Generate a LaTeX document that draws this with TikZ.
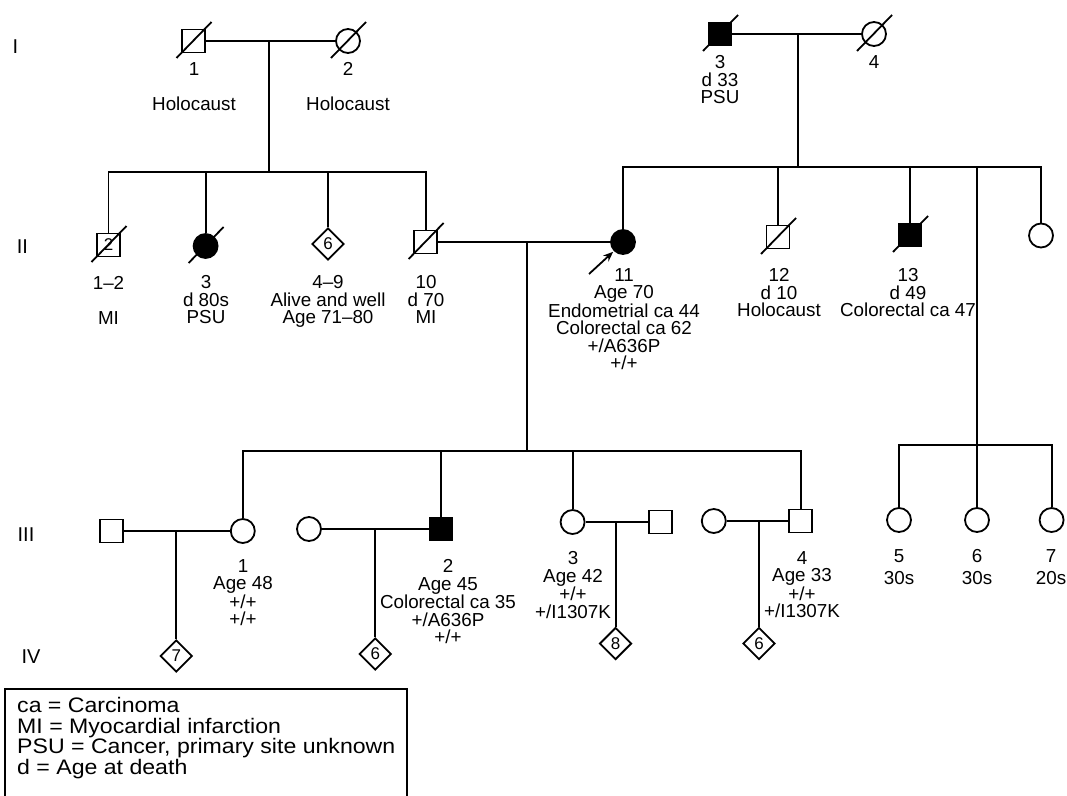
\documentclass[tikz,border=0pt]{standalone}
\usepackage{fontspec}
\setmainfont{Liberation Sans}
\newfontfamily\legfont[FakeStretch=1.1]{Liberation Sans}
\usetikzlibrary{shapes.geometric,arrows.meta}
\newcommand\deadmark[1]{\draw[ln] (#1.center) ++(-17,17) -- ++(35,-36);}
\begin{document}
\begin{tikzpicture}[x=1pt,y=-1pt,
  ln/.style={line width=1.8pt},
  sq/.style={draw,line width=1.8pt,rectangle,minimum size=23pt,inner sep=0pt,font=\fontsize{17}{17}\selectfont},
  sqf/.style={sq,fill=black},
  ci/.style={draw,line width=1.8pt,circle,minimum size=24pt,inner sep=0pt},
  cif/.style={ci,fill=black},
  dm/.style={draw,line width=1.8pt,diamond,minimum size=32pt,inner sep=0pt,font=\fontsize{17}{17}\selectfont},
  lbl/.style={anchor=north,align=center,inner sep=0pt,font=\fontsize{18.8}{17.5}\selectfont},
  gen/.style={inner sep=0pt,font=\fontsize{20}{20}\selectfont},
  legtext/.style={anchor=north west,align=left,inner sep=0pt,font=\legfont\fontsize{21}{20.7}\selectfont},
]
\useasboundingbox (0,0) rectangle (1067,795);

% generation labels
\node[gen] (gI) at (15.5,46.5) {I};
\node[gen] (gII) at (22.4,247) {II};
\node[gen] (gIII) at (26,535) {III};
\node[gen] (gIV) at (31,657) {IV};

% ---------- generation I ----------
\node[sq] (i1) at (193.5,41) {};
\node[ci] (i2) at (348,41) {};
\node[sqf] (i3) at (720,34) {};
\node[ci] (i4) at (874,34) {};
\deadmark{i1}
\deadmark{i2}
\deadmark{i3}
\deadmark{i4}
\node[lbl] (Li1) at (194,62.3) {1\\[17.5pt]Holocaust};
\node[lbl] (Li2) at (348,62.3) {2\\[17.5pt]Holocaust};
\node[lbl] (Li3) at (720,55.3) {3\\d 33\\PSU};
\node[lbl] (Li4) at (874,55.3) {4};

% ---------- generation II ----------
\node[sq] (a1) at (108.5,245) {2};
\node[cif] (a3) at (205.6,246) {};
\node[dm] (a4) at (328,244) {6};
\node[sq] (a10) at (425.6,242) {};
\node[cif] (a11) at (623,242) {};
\node[sq] (a12) at (778,237) {};
\node[sqf] (a13) at (910,235) {};
\node[ci] (a14) at (1041,235.5) {};
\deadmark{a1}
\deadmark{a3}
\deadmark{a10}
\deadmark{a12}
\deadmark{a13}
\node[lbl] (La1) at (108.5,276.3) {1--2\\[17.5pt]MI};
\node[lbl] (La3) at (206,275.3) {3\\d 80s\\PSU};
\node[lbl] (La4) at (328,275.3) {4--9\\Alive and well\\Age 71--80};
\node[lbl] (La10) at (426,275.3) {10\\d 70\\MI};
\node[lbl] (La11) at (624,268.3) {11\\Age 70\\Endometrial ca 44\\Colorectal ca 62\\+/A636P\\+/+};
\node[lbl] (La12) at (779,268.3) {12\\d 10\\Holocaust};
\node[lbl] (La13) at (908,268.3) {13\\d 49\\Colorectal ca 47};

% proband arrow
\coordinate (arrtail) at (589,274);
\draw[ln,-{Stealth[length=10pt,width=8pt]},shorten >=1pt] (arrtail) -- (a11.south west);

% ---------- generation III ----------
\node[sq] (b0) at (111.5,531) {};
\node[ci] (b1) at (242.8,531) {};
\node[ci] (b2s) at (309,529) {};
\node[sqf] (b2) at (441,529) {};
\node[ci] (b3) at (572.6,522) {};
\node[sq] (b3s) at (660.3,522) {};
\node[ci] (b4s) at (713.8,521) {};
\node[sq] (b4) at (800.8,521) {};
\node[ci] (b5) at (899,520) {};
\node[ci] (b6) at (977,520) {};
\node[ci] (b7) at (1051.6,520) {};
\node[lbl] (Lb1) at (243,559.3) {1\\Age 48\\+/+\\+/+};
\node[lbl] (Lb2) at (448,559.3) {2\\Age 45\\Colorectal ca 35\\+/A636P\\+/+};
\node[lbl] (Lb3) at (573,551.3) {3\\Age 42\\+/+\\+/I1307K};
\node[lbl] (Lb4) at (802,551.3) {4\\Age 33\\+/+\\+/I1307K};
\node[lbl] (Lb5) at (899,549.3) {5\\[4.5pt]30s};
\node[lbl] (Lb6) at (977,549.3) {6\\[4.5pt]30s};
\node[lbl] (Lb7) at (1051,549.3) {7\\[4.5pt]20s};

% ---------- generation IV ----------
\node[dm] (c7) at (176.3,656) {7};
\node[dm] (c6a) at (375.3,654) {6};
\node[dm] (c8) at (615.6,643.5) {8};
\node[dm] (c6b) at (759,643.5) {6};

% ---------- connectors ----------
% I-1 x I-2
\draw[ln] (i1) -- (i2);
\coordinate (mi12) at (269,41);
\coordinate (sl) at (269,172);
\draw[ln] (mi12) -- (sl);
\draw[ln] (a1.north) -- (a1.north |- sl) -- (a10.north |- sl) -- (a10.north);
\draw[ln] (a3.north) -- (a3.north |- sl);
\draw[ln] (a4.north) -- (a4.north |- sl);
% I-3 x I-4
\draw[ln] (i3) -- (i4);
\coordinate (mi34) at (798,34);
\coordinate (sr) at (798,167);
\draw[ln] (mi34) -- (sr);
\draw[ln] (a11.north) -- (a11.north |- sr) -- (a14.north |- sr) -- (a14.north);
\draw[ln] (a12.north) -- (a12.north |- sr);
\draw[ln] (a13.north) -- (a13.north |- sr);
\draw[ln] (b6.north |- sr) -- (b6.north);
\coordinate (s3r) at (977,445);
\draw[ln] (b5.north) -- (b5.north |- s3r) -- (b7.north |- s3r) -- (b7.north);
% II-10 x II-11
\draw[ln] (a10) -- (a11);
\coordinate (m1011) at (527,242);
\coordinate (s3) at (527,451);
\draw[ln] (m1011) -- (s3);
\draw[ln] (b1.north) -- (b1.north |- s3) -- (b4.north |- s3) -- (b4.north);
\draw[ln] (b2.north) -- (b2.north |- s3);
\draw[ln] (b3.north) -- (b3.north |- s3);
% III marriages and offspring
\draw[ln] (b0) -- (b1);
\coordinate (mb1) at (176.3,531);
\draw[ln] (mb1) -- (c7);
\draw[ln] (b2s) -- (b2);
\coordinate (mb2) at (375.3,529);
\draw[ln] (mb2) -- (c6a);
\draw[ln] (b3) -- (b3s);
\coordinate (mb3) at (615.6,522);
\draw[ln] (mb3) -- (c8);
\draw[ln] (b4s) -- (b4);
\coordinate (mb4) at (759,521);
\draw[ln] (mb4) -- (c6b);

% ---------- legend ----------
\coordinate (lg1) at (5,796);
\coordinate (lg2) at (5,689);
\coordinate (lg3) at (407,689);
\coordinate (lg4) at (407,796);
\draw[ln] (lg1) -- (lg2) -- (lg3) -- (lg4);
\node[legtext] (leg) at (17,697) {ca = Carcinoma\\MI = Myocardial infarction\\PSU = Cancer, primary site unknown\\d = Age at death};
\end{tikzpicture}
\end{document}
